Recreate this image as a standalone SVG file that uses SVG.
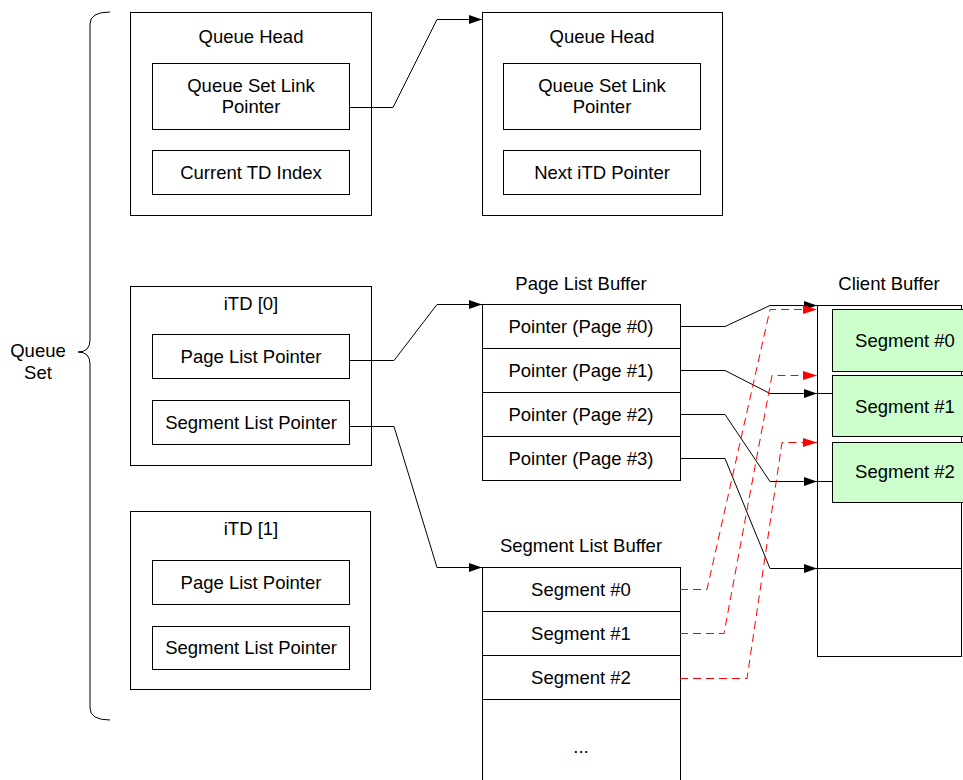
<svg xmlns="http://www.w3.org/2000/svg" width="963" height="780" viewBox="0 0 963 780">
<defs>
<style>
text{font-family:"Liberation Sans",Arial,sans-serif;font-size:18.5px;fill:#000;text-anchor:middle;dominant-baseline:central}
.box{fill:#fff;stroke:#000;stroke-width:1}
.seg{fill:#ccffcc;stroke:#000;stroke-width:1}
.ln{fill:none;stroke:#000;stroke-width:1}
.rd{fill:none;stroke:#f00;stroke-width:1;stroke-dasharray:8,5}
</style>
<marker id="ab" viewBox="0 0 13 9" refX="13" refY="4.5" markerWidth="13" markerHeight="9" markerUnits="userSpaceOnUse" orient="auto"><path d="M0,0L13,4.5L0,9z" fill="#000"/></marker>
<marker id="ar" viewBox="0 0 14 9" refX="14" refY="4.5" markerWidth="14" markerHeight="9" markerUnits="userSpaceOnUse" orient="auto"><path d="M0,0L14,4.5L0,9z" fill="#f00"/></marker>
</defs>
<rect width="963" height="780" fill="#fff"/>

<g id="queue-set-brace">
<path class="ln" d="M110,12 Q90,12 90,24 L90,340 Q90,352 78,352 Q90,352 90,364 L90,708 Q90,720 110,720"/>
<text x="38" y="350">Queue</text>
<text x="38" y="372">Set</text>
</g>

<g id="qh1">
<rect class="box" x="130.5" y="12.5" width="241" height="203"/>
<text x="251" y="36">Queue Head</text>
<rect class="box" x="152.5" y="63.5" width="197" height="66"/>
<text x="251" y="85">Queue Set Link</text>
<text x="251" y="106">Pointer</text>
<rect class="box" x="152.5" y="150.5" width="197" height="44"/>
<text x="251" y="172">Current TD Index</text>
</g>

<g id="qh2">
<rect class="box" x="482.5" y="12.5" width="240" height="203"/>
<text x="602" y="36">Queue Head</text>
<rect class="box" x="503.5" y="63.5" width="197" height="66"/>
<text x="602" y="85">Queue Set Link</text>
<text x="602" y="106">Pointer</text>
<rect class="box" x="503.5" y="150.5" width="197" height="44"/>
<text x="602" y="172">Next iTD Pointer</text>
</g>

<g id="itd0">
<rect class="box" x="130.5" y="286.5" width="241" height="179"/>
<text x="251" y="303">iTD [0]</text>
<rect class="box" x="152.5" y="334.5" width="197" height="44"/>
<text x="251" y="356">Page List Pointer</text>
<rect class="box" x="152.5" y="400.5" width="197" height="44"/>
<text x="251" y="422">Segment List Pointer</text>
</g>

<g id="itd1">
<rect class="box" x="130.5" y="511.5" width="240" height="178"/>
<text x="251" y="528">iTD [1]</text>
<rect class="box" x="152.5" y="560.5" width="197" height="44"/>
<text x="251" y="582">Page List Pointer</text>
<rect class="box" x="152.5" y="626.5" width="197" height="43"/>
<text x="251" y="647">Segment List Pointer</text>
</g>

<g id="page-list-buffer">
<text x="581" y="283">Page List Buffer</text>
<rect class="box" x="482.5" y="304.5" width="198" height="44"/>
<text x="581" y="326">Pointer (Page #0)</text>
<rect class="box" x="482.5" y="348.5" width="198" height="44"/>
<text x="581" y="370">Pointer (Page #1)</text>
<rect class="box" x="482.5" y="392.5" width="198" height="44"/>
<text x="581" y="414">Pointer (Page #2)</text>
<rect class="box" x="482.5" y="436.5" width="198" height="44"/>
<text x="581" y="458">Pointer (Page #3)</text>
</g>

<g id="segment-list-buffer">
<text x="581" y="545">Segment List Buffer</text>
<rect class="box" x="482.5" y="567.5" width="198" height="44"/>
<text x="581" y="589">Segment #0</text>
<rect class="box" x="482.5" y="611.5" width="198" height="44"/>
<text x="581" y="633">Segment #1</text>
<rect class="box" x="482.5" y="655.5" width="198" height="44"/>
<text x="581" y="677">Segment #2</text>
<rect class="box" x="482.5" y="699.5" width="198" height="90"/>
<text x="581" y="746">...</text>
</g>

<g id="client-buffer">
<text x="889" y="283">Client Buffer</text>
<rect class="box" x="817.5" y="305.5" width="144" height="88"/>
<rect class="box" x="817.5" y="393.5" width="144" height="88"/>
<rect class="box" x="817.5" y="481.5" width="144" height="87"/>
<rect class="box" x="817.5" y="568.5" width="144" height="88"/>
<rect class="seg" x="832.5" y="309.5" width="140" height="62"/>
<text x="905" y="340">Segment #0</text>
<rect class="seg" x="832.5" y="375.5" width="140" height="61"/>
<text x="905" y="406">Segment #1</text>
<rect class="seg" x="832.5" y="442.5" width="140" height="60"/>
<text x="905" y="471">Segment #2</text>
</g>

<g id="connectors">
<polyline class="ln" points="350,107.5 393,107.5 437,19.5 482,19.5" marker-end="url(#ab)"/>
<polyline class="ln" points="350,360.5 394,360.5 437,304.5 482,304.5" marker-end="url(#ab)"/>
<polyline class="ln" points="350,426.5 394,426.5 437,567.5 482,567.5" marker-end="url(#ab)"/>
<polyline class="ln" points="680,326.5 725,326.5 770,305.5 817,305.5" marker-end="url(#ab)"/>
<polyline class="ln" points="680,370.5 725,370.5 770,393.5 817,393.5" marker-end="url(#ab)"/>
<polyline class="ln" points="680,414.5 725,414.5 770,481.5 817,481.5" marker-end="url(#ab)"/>
<polyline class="ln" points="680,458.5 725,458.5 770,568.5 817,568.5" marker-end="url(#ab)"/>
<polyline class="rd" points="680,589.5 707,589.5 770,309.5 817,309.5" marker-end="url(#ar)"/>
<polyline class="rd" points="680,633.5 724,633.5 772,375.5 817,375.5" marker-end="url(#ar)"/>
<polyline class="rd" points="680,678.5 747,678.5 782,442.5 817,442.5" marker-end="url(#ar)"/>
</g>
</svg>
